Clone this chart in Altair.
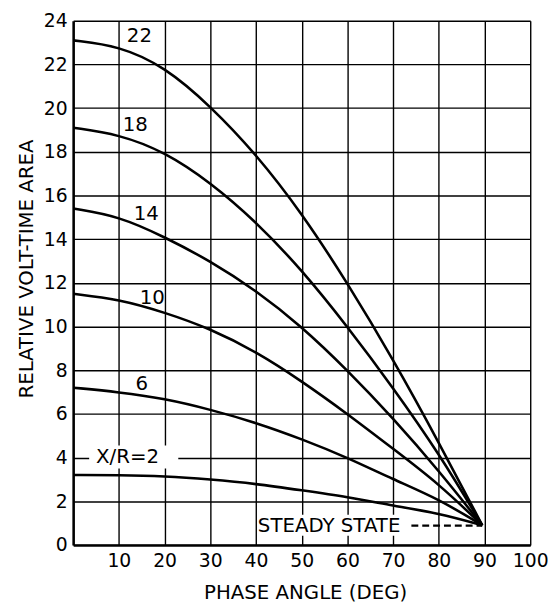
import altair as alt
import pandas as pd

# ---- data ----
phase = [0, 10, 20, 30, 40, 50, 60, 70, 80, 89.5]
ratios = ["2", "6", "10", "14", "18", "22"]
xr2 = [3.2, 3.2, 3.15, 3.0, 2.8, 2.5, 2.2, 1.8, 1.45, 0.9]
xr6 = [7.2, 7.0, 6.7, 6.2, 5.6, 4.85, 4.0, 3.0, 2.1, 0.9]
xr10 = [11.5, 11.25, 10.65, 9.9, 8.85, 7.5, 6.0, 4.4, 2.8, 0.9]
xr14 = [15.4, 15.05, 14.1, 13.0, 11.65, 10.0, 8.0, 5.8, 3.4, 0.9]
xr18 = [19.1, 18.8, 18.0, 16.6, 14.8, 12.6, 10.0, 7.2, 4.2, 0.9]
xr22 = [23.1, 22.85, 21.9, 20.1, 17.9, 15.2, 12.0, 8.5, 4.7, 0.9]
series = [xr2, xr6, xr10, xr14, xr18, xr22]

x_ticks = [10, 20, 30, 40, 50, 60, 70, 80, 90, 100]
y_ticks = [0, 2, 4, 6, 8, 10, 12, 14, 16, 18, 20, 22, 24]

label_text = ["22", "18", "14", "10", "6", "X/R=2", "STEADY STATE"]
label_x = [14.5, 13.6, 16.0, 17.3, 15.0, 11.9, 56.0]
label_y = [23.3, 19.2, 15.15, 11.3, 7.35, 4.0, 0.88]

# white backgrounds behind the inline labels
bg_x = [3.5, 40.4]
bg_x2 = [23.0, 73.6]
bg_y = [3.5, 0.42]
bg_y2 = [4.55, 1.38]

# steady-state dashed leader
dash_x = [74.0]
dash_x2 = [89.5]
dash_y = [0.88]

rows = []
for r, vals in zip(ratios, series):
    for p, v in zip(phase, vals):
        rows.append({"ratio": r, "x": p, "y": v})
curves = pd.DataFrame(rows)
labels = pd.DataFrame({"text": label_text, "x": label_x, "y": label_y})
bgs = pd.DataFrame({"x": bg_x, "x2": bg_x2, "y": bg_y, "y2": bg_y2})
dash = pd.DataFrame({"x": dash_x, "x2": dash_x2, "y": dash_y})

FONT = "DejaVu Sans"

xenc = alt.X(
    "x:Q",
    scale=alt.Scale(domain=[0, 100], nice=False, zero=False),
    axis=alt.Axis(
        values=x_ticks,
        title="PHASE ANGLE (DEG)",
        titleX=235,
        titleY=48,
        titleAlign="center",
        titleBaseline="middle",
        labelPadding=7,
        labelOverlap=False,
        labelFlush=False,
    ),
)
yenc = alt.Y(
    "y:Q",
    scale=alt.Scale(domain=[0, 24], nice=False),
    axis=alt.Axis(
        values=y_ticks,
        title="RELATIVE VOLT-TIME AREA",
        titleAngle=270,
        titleX=-47,
        titleY=251,
        titleAlign="center",
        titleBaseline="middle",
        labelPadding=6,
        labelOverlap=False,
        labelFlush=False,
    ),
)

bg_layer = alt.Chart(bgs).mark_rect(color="white").encode(
    x=xenc, x2="x2:Q", y=yenc, y2="y2:Q"
)

line_layer = alt.Chart(curves).mark_line(
    interpolate="basis", color="black", strokeWidth=2.6
).encode(x=xenc, y=yenc, detail="ratio:N")

text_layer = alt.Chart(labels).mark_text(
    font=FONT, fontSize=20, color="black", align="center", baseline="middle"
).encode(x=xenc, y=yenc, text="text:N")

dash_layer = alt.Chart(dash).mark_rule(
    color="black", strokeWidth=2.2, strokeDash=[7, 4]
).encode(x=xenc, x2="x2:Q", y=yenc)

chart = (
    alt.layer(bg_layer, line_layer, text_layer, dash_layer)
    .properties(
        width=463,
        height=531,
        padding={"left": 66, "top": 9, "right": 18, "bottom": 60},
        autosize=alt.AutoSizeParams(type="none"),
        background="white",
    )
    .configure_view(strokeWidth=0)
    .configure_axis(
        grid=True,
        gridColor="black",
        gridOpacity=1,
        gridWidth=1.4,
        domainColor="black",
        domainWidth=2.6,
        ticks=False,
        labelFont=FONT,
        labelFontSize=19,
        labelColor="black",
        titleFont=FONT,
        titleFontSize=20,
        titleFontWeight="normal",
        titleColor="black",
    )
)

chart.save("out.html", embed_options={"renderer": "svg", "actions": False})
